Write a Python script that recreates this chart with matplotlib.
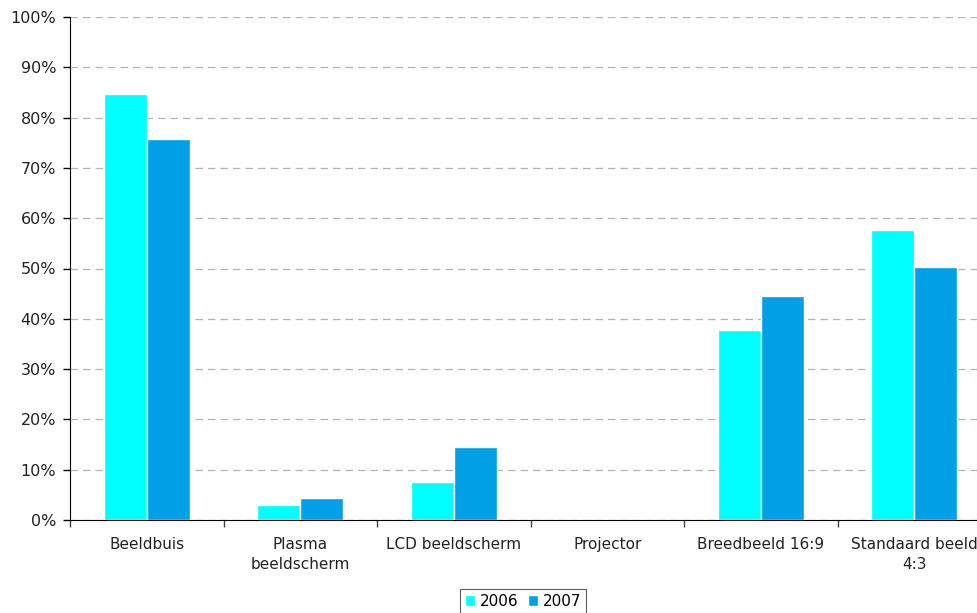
import numpy as np
import matplotlib
matplotlib.use("Agg")
import matplotlib.pyplot as plt
from matplotlib.ticker import FixedLocator, PercentFormatter

categories = ["Beeldbuis", "Plasma\nbeeldscherm", "LCD beeldscherm", "Projector",
              "Breedbeeld 16:9", "Standaard beeld\n4:3"]
years = ["2006", "2007"]
values_2006 = [84.7, 3.0, 7.6, 0.0, 37.8, 57.7]
values_2007 = [75.7, 4.4, 14.5, 0.0, 44.5, 50.3]
colors = ["#00FFFF", "#00A0E6"]

plt.rcParams["font.family"] = ["DejaVu Sans"]

fig = plt.figure(figsize=(9.77, 6.13), dpi=100)
W, H = 977, 613
ax = fig.add_axes([70 / W, 1 - 520 / H, (991 - 70) / W, (520 - 17) / H])

x = np.arange(len(categories))
width = 0.28
ax.bar(x - width / 2, values_2006, width, color=colors[0], edgecolor="white",
       linewidth=1, label=years[0], zorder=3)
ax.bar(x + width / 2, values_2007, width, color=colors[1], edgecolor="white",
       linewidth=1, label=years[1], zorder=3)

ax.set_xlim(-0.5, len(categories) - 0.5)
ax.set_ylim(0, 100)
ax.set_yticks(np.arange(0, 101, 10))
ax.yaxis.set_major_formatter(PercentFormatter(decimals=0))
ax.grid(axis="y", color="#B4B4B4", linestyle=(0, (6, 4)), linewidth=0.9, zorder=0)

ax.set_xticks(x)
ax.set_xticklabels(categories, fontsize=11, color="#222222", linespacing=1.45)
ax.tick_params(axis="x", which="major", length=0, pad=12)
ax.xaxis.set_minor_locator(FixedLocator(np.arange(-0.5, len(categories), 1.0)))
ax.tick_params(axis="x", which="minor", length=5, width=1, color="#444444", direction="out")
ax.tick_params(axis="y", length=5, width=1, labelsize=11.5, labelcolor="#222222", pad=5)

for side in ["top", "right"]:
    ax.spines[side].set_visible(False)
ax.spines["left"].set_color("black")
ax.spines["bottom"].set_color("black")

leg = fig.legend(loc="upper center", bbox_to_anchor=(523 / W, 1 - 589 / H), ncol=2,
                 fontsize=11, frameon=True, fancybox=False, edgecolor="#333333",
                 handlelength=0.7, handleheight=0.7, handletextpad=0.3,
                 columnspacing=0.6, borderpad=0.3, borderaxespad=0)
leg.get_frame().set_linewidth(0.8)

fig.savefig("out.png", dpi=100)
